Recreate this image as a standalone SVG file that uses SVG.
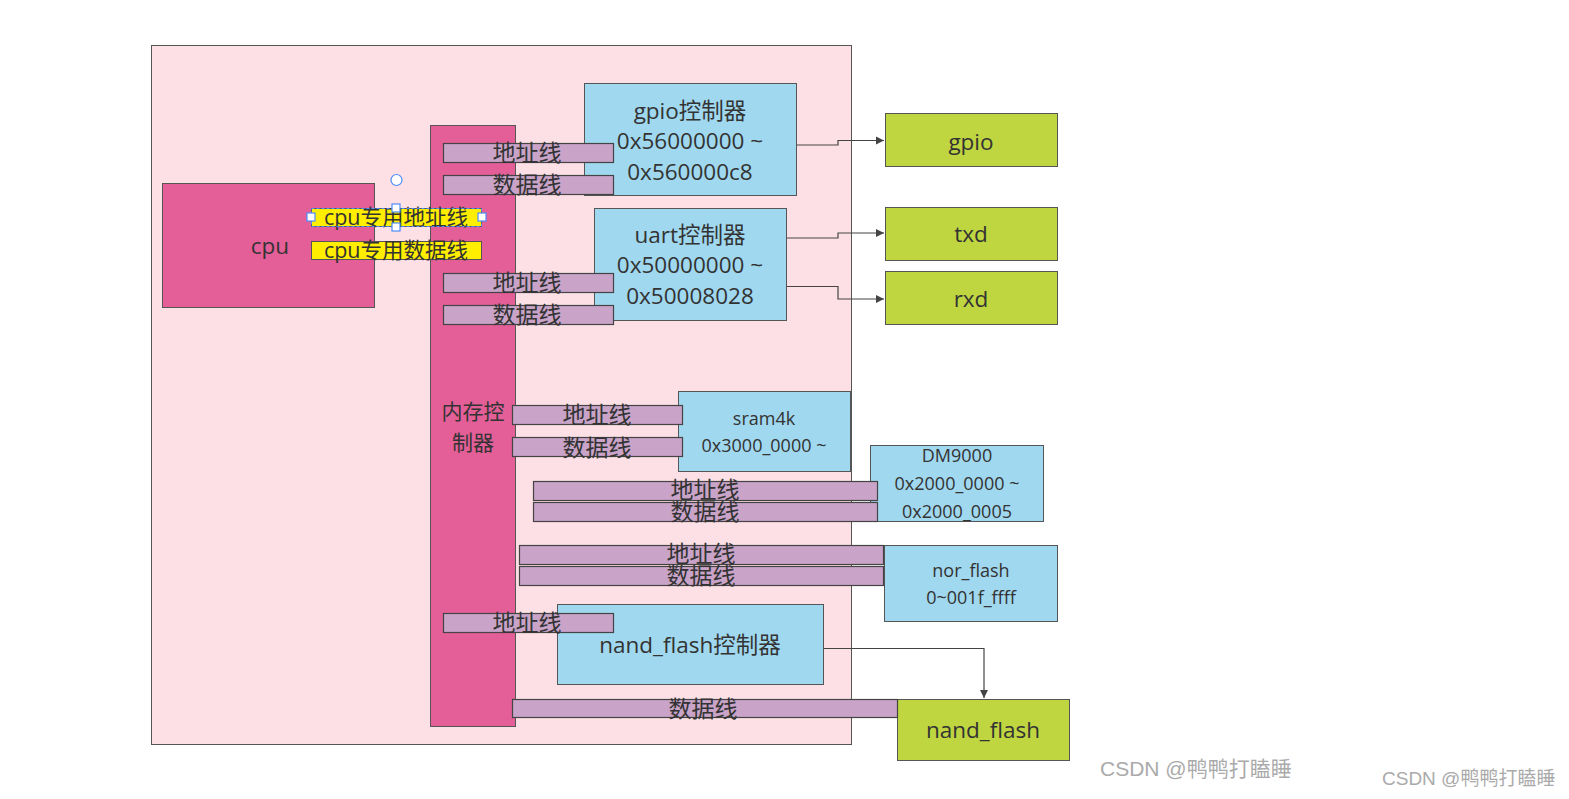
<svg xmlns="http://www.w3.org/2000/svg" width="1569" height="799" viewBox="0 0 1569 799">
<style>
text{font-family:"Open Sans","Noto Sans CJK SC",sans-serif;fill:#333;text-anchor:middle}
.outer{fill:#fde0e6;stroke:#555;stroke-width:1}
.pk{fill:#e45e98;stroke:#555;stroke-width:1}
.bar{fill:#c9a4c8;stroke:#444;stroke-width:1.2}
.blue{fill:#a0d8ef;stroke:#555;stroke-width:1}
.green{fill:#bfd641;stroke:#555;stroke-width:1}
.yel{fill:#ffee00;stroke:#555;stroke-width:1}
.t22{font-size:22.5px}
.t20{font-size:21.5px}
.t18{font-size:18px}
.cj{font-family:"Noto Sans CJK SC",sans-serif;font-size:23px}
.conn{fill:none;stroke:#444;stroke-width:1.2}
.h{fill:#fff;stroke:#4b8df8;stroke-width:1.2}
.wm{fill:#aaa;text-anchor:start;font-family:"Liberation Sans","Noto Sans CJK SC",sans-serif}
</style>
<defs>
<marker id="arr" markerWidth="10" markerHeight="10" refX="9" refY="5" orient="auto" markerUnits="userSpaceOnUse">
<path d="M1,1 L9,5 L1,9 z" fill="#444"/>
</marker>
</defs>
<rect width="1569" height="799" fill="#fff"/>
<g id="board"><rect class="outer" x="151.5" y="45.5" width="700" height="699"/></g>
<g id="cpu"><rect class="pk" x="162.5" y="183.5" width="212" height="124"/><text class="t22" x="270" y="254">cpu</text></g>
<g id="memctl"><rect class="pk" x="430.5" y="125.5" width="85" height="601"/><text class="cj" x="473" y="419" style="font-size:21px">内存控</text><text class="cj" x="473" y="450" style="font-size:21px">制器</text></g>
<g id="gpioctl"><rect class="blue" x="584.5" y="83.5" width="212" height="112"/>
<text class="t22" x="690" y="119">gpio控制器</text><text class="t22" x="690" y="149">0x56000000 ~</text><text class="t22" x="690" y="180">0x560000c8</text></g>
<g id="uartctl"><rect class="blue" x="594.5" y="208.5" width="192" height="112"/>
<text class="t22" x="690" y="243">uart控制器</text><text class="t22" x="690" y="273">0x50000000 ~</text><text class="t22" x="690" y="304">0x50008028</text></g>
<g id="sram"><rect class="blue" x="678.5" y="391.5" width="172" height="80"/>
<text class="t18" x="764" y="425">sram4k</text><text class="t18" x="764" y="452">0x3000_0000 ~</text></g>
<g id="dm9000"><rect class="blue" x="870.5" y="445.5" width="173" height="76"/>
<text class="t18" x="957" y="462">DM9000</text><text class="t18" x="957" y="490">0x2000_0000 ~</text><text class="t18" x="957" y="518">0x2000_0005</text></g>
<g id="norflash"><rect class="blue" x="884.5" y="545.5" width="173" height="76"/>
<text class="t18" x="971" y="577">nor_flash</text><text class="t18" x="971" y="604">0~001f_ffff</text></g>
<g id="nandctl"><rect class="blue" x="557.5" y="604.5" width="266" height="80"/><text class="t22" x="690" y="653">nand_flash控制器</text></g>
<g id="gpio"><rect class="green" x="885.5" y="113.5" width="172" height="53"/><text class="t22" x="971" y="150">gpio</text></g>
<g id="txd"><rect class="green" x="885.5" y="207.5" width="172" height="53"/><text class="t22" x="971" y="242">txd</text></g>
<g id="rxd"><rect class="green" x="885.5" y="271.5" width="172" height="53"/><text class="t22" x="971" y="307">rxd</text></g>
<g id="nandflash"><rect class="green" x="897.5" y="699.5" width="172" height="61"/><text class="t22" x="983" y="738">nand_flash</text></g>
<g id="buses">
<rect class="bar" x="443.5" y="143.5" width="170" height="19"/><text class="cj" x="527" y="161">地址线</text>
<rect class="bar" x="443.5" y="175.5" width="170" height="19"/><text class="cj" x="527" y="193">数据线</text>
<rect class="bar" x="443.5" y="273.5" width="170" height="19"/><text class="cj" x="527" y="291">地址线</text>
<rect class="bar" x="443.5" y="305.5" width="170" height="19"/><text class="cj" x="527" y="323">数据线</text>
<rect class="bar" x="512.5" y="405.5" width="170" height="19"/><text class="cj" x="597" y="423">地址线</text>
<rect class="bar" x="512.5" y="437.5" width="170" height="19"/><text class="cj" x="597" y="456">数据线</text>
<rect class="bar" x="533.5" y="481.5" width="344" height="19"/><text class="cj" x="705" y="498">地址线</text>
<rect class="bar" x="533.5" y="502.5" width="344" height="19"/><text class="cj" x="705" y="520">数据线</text>
<rect class="bar" x="519.5" y="545.5" width="364" height="19"/><text class="cj" x="701" y="562">地址线</text>
<rect class="bar" x="519.5" y="566.5" width="364" height="19"/><text class="cj" x="701" y="584">数据线</text>
<rect class="bar" x="443.5" y="613.5" width="170" height="19"/><text class="cj" x="527" y="631">地址线</text>
<rect class="bar" x="512.5" y="699.5" width="385" height="18"/><text class="cj" x="703" y="717">数据线</text>
</g>
<g id="cpubus">
<rect class="yel" x="311.5" y="208.5" width="170" height="18"/><text class="t20" x="396" y="225">cpu专用地址线</text>
<rect class="yel" x="311.5" y="241.5" width="170" height="18"/><text class="t20" x="396" y="258">cpu专用数据线</text>
</g>
<g id="handles">
<rect x="311.5" y="208.5" width="170" height="18" fill="none" stroke="#4b8df8" stroke-dasharray="3 2"/>
<rect class="h" x="307" y="213" width="8" height="8"/><rect class="h" x="478" y="213" width="8" height="8"/>
<rect class="h" x="392" y="204" width="8" height="8"/><rect class="h" x="392" y="223" width="8" height="8"/>
<circle class="h" cx="396.5" cy="180" r="5.5"/>
</g>
<g id="connectors">
<path class="conn" d="M797,145 H838 V140.5 H884" marker-end="url(#arr)"/>
<path class="conn" d="M787,238 H838 V233 H884" marker-end="url(#arr)"/>
<path class="conn" d="M787,286.5 H838 V299 H884" marker-end="url(#arr)"/>
<path class="conn" d="M824,648.5 H984 V698" marker-end="url(#arr)"/>
</g>
<g id="watermarks">
<text class="wm" x="1100" y="776" font-size="21">CSDN @鸭鸭打瞌睡</text>
<text class="wm" x="1382" y="785" font-size="19">CSDN @鸭鸭打瞌睡</text>
</g>
</svg>
